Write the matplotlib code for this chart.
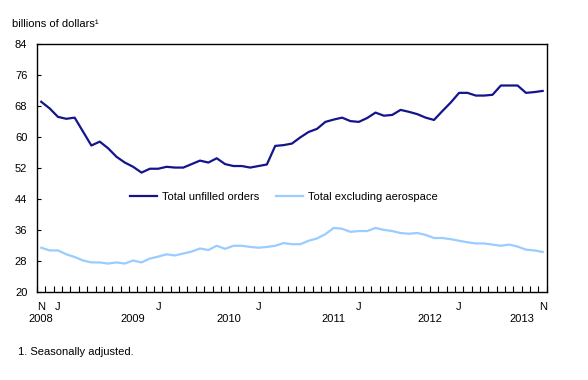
import numpy as np
import matplotlib
matplotlib.use("Agg")
import matplotlib.pyplot as plt
import matplotlib.transforms as mtransforms

plt.rcParams["font.family"] = ["Liberation Sans", "DejaVu Sans"]
plt.rcParams["font.size"] = 8

# monthly values, Nov 2008 .. Nov 2013 (billions of dollars)
total_unfilled = [
    69.1, 67.4, 65.2, 64.7, 65.0, 61.4, 57.8, 58.8, 57.1, 54.9,
    53.4, 52.3, 50.8, 51.8, 51.8, 52.3, 52.1, 52.1, 53.0, 53.9,
    53.4, 54.5, 53.0, 52.5, 52.5, 52.1, 52.5, 52.9, 57.7, 57.9,
    58.3, 59.9, 61.3, 62.1, 63.9, 64.5, 65.0, 64.1, 63.9, 64.9,
    66.3, 65.5, 65.7, 67.0, 66.5, 65.9, 65.0, 64.4, 66.7, 68.9,
    71.4, 71.4, 70.7, 70.7, 70.9, 73.3, 73.3, 73.3, 71.4, 71.6,
    71.9,
]
excl_aerospace = [
    31.4, 30.7, 30.7, 29.7, 29.0, 28.1, 27.6, 27.6, 27.3, 27.6,
    27.3, 28.1, 27.6, 28.6, 29.1, 29.7, 29.4, 29.9, 30.4, 31.2,
    30.8, 31.9, 31.1, 31.9, 31.9, 31.6, 31.4, 31.6, 31.9, 32.6,
    32.3, 32.3, 33.2, 33.8, 34.9, 36.5, 36.3, 35.5, 35.7, 35.7,
    36.5, 36.0, 35.7, 35.2, 35.0, 35.2, 34.7, 33.9, 33.9, 33.6,
    33.2, 32.8, 32.5, 32.5, 32.2, 31.9, 32.2, 31.7, 30.9, 30.7,
    30.3,
]
month_labels = {0: "N", 2: "J", 14: "J", 26: "J", 38: "J", 50: "J", 60: "N"}
year_labels = {0: "2008", 11: "2009", 22.5: "2010", 35: "2011", 46.5: "2012", 57.5: "2013"}
y_ticks = [20, 28, 36, 44, 52, 60, 68, 76, 84]

x = np.arange(len(total_unfilled))

fig = plt.figure(figsize=(5.88, 3.80), dpi=100)
ax = fig.add_axes([0.063, 0.232, 0.867, 0.652])

ax.plot(x, total_unfilled, color="#14148c", lw=1.6, label="Total unfilled orders")
ax.plot(x, excl_aerospace, color="#99ccff", lw=1.6, label="Total excluding aerospace")

ax.set_xlim(-0.5, len(x) - 0.5)
ax.set_ylim(20, 84)
ax.set_yticks(y_ticks)
ax.tick_params(axis="y", direction="in", length=3, pad=7, width=0.8)

# month boundaries as inward minor ticks, labels at band centers
ax.set_xticks(np.arange(len(x) + 1) - 0.5, minor=True)
ax.set_xticks(list(month_labels.keys()))
ax.set_xticklabels(list(month_labels.values()))
ax.tick_params(axis="x", which="minor", direction="in", length=4, width=0.8)
ax.tick_params(axis="x", which="major", length=0, pad=7)

trans = mtransforms.blended_transform_factory(ax.transData, ax.transAxes)
for pos, yr in year_labels.items():
    ax.text(pos, -0.108, yr, transform=trans, ha="center", va="center")

for s in ax.spines.values():
    s.set_linewidth(1.0)

ax.legend(loc="center", bbox_to_anchor=(0.484, 0.383), ncol=2, frameon=False,
          handlelength=2.4, columnspacing=1.5, handletextpad=0.45)

fig.text(0.02, 0.937, "billions of dollars\u00b9", ha="left", va="center")
fig.text(0.03, 0.074, "1. Seasonally adjusted.", ha="left", va="center")

fig.savefig("out.png", dpi=100)
